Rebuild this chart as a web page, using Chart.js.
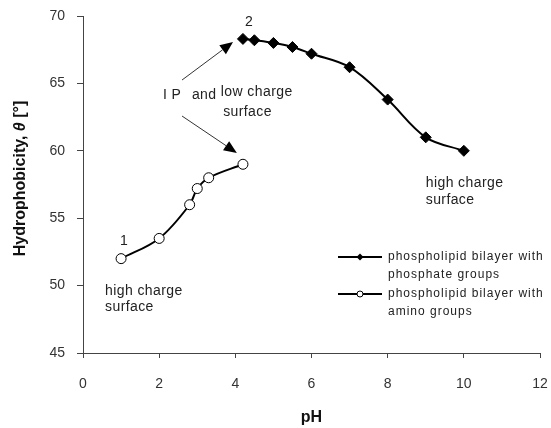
<!DOCTYPE html>
<html>
<head>
<meta charset="utf-8">
<script src="https://cdn.jsdelivr.net/npm/chart.js@4.4.0/dist/chart.umd.min.js"></script>
<style>
  html, body { margin: 0; padding: 0; background: #fff; }
</style>
</head>
<body>
<canvas id="CHART1" width="551" height="428"></canvas>
<script>
// phosphate groups (filled diamonds)
const phosphatePH = [4.2, 4.5, 5, 5.5, 6, 7, 8, 9, 10];
const phosphateTheta = [68.3, 68.2, 68.0, 67.7, 67.2, 66.2, 63.8, 61.0, 60.0];
// amino groups (open circles)
const aminoPH = [1, 2, 2.8, 3.0, 3.3, 4.2];
const aminoTheta = [52.0, 53.5, 56.0, 57.2, 58.0, 59.0];

const xTicks = [0, 2, 4, 6, 8, 10, 12];
const yTicks = [45, 50, 55, 60, 65, 70];

const legendLabels = [
  ['phospholipid bilayer with', 'phosphate groups'],
  ['phospholipid bilayer with', 'amino groups']
];

// text notes, placed in data units
const notes = [
  { x: 1.08, y: 53.3, text: '1', align: 'center', size: 14 },
  { x: 4.36, y: 69.55, text: '2', align: 'center', size: 14 },
  { x: 2.1, y: 64.1, text: 'I P', align: 'left', size: 14 },
  { x: 2.86, y: 64.1, text: 'and', align: 'left', size: 14 },
  { x: 3.62, y: 64.36, text: 'low charge', align: 'left', size: 14 },
  { x: 3.68, y: 62.9, text: 'surface', align: 'left', size: 14 },
  { x: 0.58, y: 49.6, text: 'high charge', align: 'left', size: 14 },
  { x: 0.58, y: 48.4, text: 'surface', align: 'left', size: 14 },
  { x: 9.0, y: 57.6, text: 'high charge', align: 'left', size: 14 },
  { x: 9.0, y: 56.35, text: 'surface', align: 'left', size: 14 }
];
const arrows = [
  { x1: 2.6, y1: 65.25, x2: 3.94, y2: 68.07 },
  { x1: 2.6, y1: 62.58, x2: 4.04, y2: 59.84 }
];

function toXY(xs, ys) {
  return xs.map((x, i) => ({ x: x, y: ys[i] }));
}

const FONT = '"Liberation Sans", Arial, sans-serif';

const extras = {
  id: 'extras',
  afterDraw(chart) {
    const c = chart.ctx;
    const xs = chart.scales.x, ys = chart.scales.y;
    const area = chart.chartArea;
    c.save();
    c.fillStyle = '#222';
    c.textBaseline = 'middle';
    c.letterSpacing = '0.4px';
    notes.forEach(n => {
      c.font = n.size + 'px ' + FONT;
      c.textAlign = n.align;
      c.fillText(n.text, xs.getPixelForValue(n.x), ys.getPixelForValue(n.y));
    });
    c.letterSpacing = '0px';

    // arrows
    c.strokeStyle = '#333';
    c.fillStyle = '#000';
    c.lineWidth = 1;
    arrows.forEach(a => {
      const x1 = xs.getPixelForValue(a.x1), y1 = ys.getPixelForValue(a.y1);
      const x2 = xs.getPixelForValue(a.x2), y2 = ys.getPixelForValue(a.y2);
      const ang = Math.atan2(y2 - y1, x2 - x1);
      const L = 13, W = 5.5;
      const bx = x2 - L * Math.cos(ang), by = y2 - L * Math.sin(ang);
      c.beginPath();
      c.moveTo(x1, y1);
      c.lineTo(bx, by);
      c.stroke();
      c.beginPath();
      c.moveTo(x2, y2);
      c.lineTo(bx + W * Math.sin(ang), by - W * Math.cos(ang));
      c.lineTo(bx - W * Math.sin(ang), by + W * Math.cos(ang));
      c.closePath();
      c.fill();
    });

    // legend
    const lx = area.right - 202, ly = area.bottom - 96;
    chart.data.datasets.forEach((ds, i) => {
      const y = ly + i * 37;
      c.strokeStyle = '#000';
      c.lineWidth = 2;
      c.beginPath();
      c.moveTo(lx, y);
      c.lineTo(lx + 44, y);
      c.stroke();
      c.lineWidth = 1;
      c.beginPath();
      if (i === 0) {
        c.fillStyle = '#000';
        c.moveTo(lx + 22, y - 3.5);
        c.lineTo(lx + 25.5, y);
        c.lineTo(lx + 22, y + 3.5);
        c.lineTo(lx + 18.5, y);
        c.closePath();
        c.fill();
      } else {
        c.fillStyle = '#fff';
        c.arc(lx + 22, y, 3, 0, Math.PI * 2);
        c.fill();
        c.stroke();
      }
      c.fillStyle = '#222';
      c.font = '12px ' + FONT;
      c.textAlign = 'left';
      c.letterSpacing = '1px';
      legendLabels[i].forEach((t, k) => c.fillText(t, lx + 50, y + k * 18));
      c.letterSpacing = '0px';
    });

    // y axis title with italic theta
    c.translate(21, (area.top + area.bottom) / 2 - 6);
    c.rotate(-Math.PI / 2);
    c.fillStyle = '#111';
    c.textAlign = 'left';
    const parts = [
      { t: 'Hydrophobicity, ', f: 'bold 16px ' + FONT },
      { t: 'θ', f: 'italic bold 16px ' + FONT },
      { t: ' [°]', f: 'bold 16px ' + FONT }
    ];
    let total = 0;
    parts.forEach(p => { c.font = p.f; total += c.measureText(p.t).width; });
    let px = -total / 2;
    parts.forEach(p => { c.font = p.f; c.fillText(p.t, px, 0); px += c.measureText(p.t).width; });
    c.restore();
  }
};

const ctx1 = document.getElementById('CHART1');

new Chart(ctx1, {
  type: 'scatter',
  data: {
    datasets: [{
      label: legendLabels[0].join(' '),
      data: toXY(phosphatePH, phosphateTheta),
      showLine: true,
      borderColor: '#000',
      borderWidth: 2,
      tension: 0.35,
      pointStyle: 'rectRot',
      pointRadius: 5.5,
      pointBackgroundColor: '#000',
      pointBorderColor: '#000',
      pointBorderWidth: 1
    }, {
      label: legendLabels[1].join(' '),
      data: toXY(aminoPH, aminoTheta),
      showLine: true,
      borderColor: '#000',
      borderWidth: 2,
      tension: 0.35,
      pointStyle: 'circle',
      pointRadius: 5,
      pointBackgroundColor: '#fff',
      pointBorderColor: '#000',
      pointBorderWidth: 1
    }]
  },
  options: {
    responsive: false,
    animation: false,
    devicePixelRatio: 1,
    layout: { padding: { top: 16, right: 11, left: 0, bottom: 0 } },
    plugins: {
      legend: { display: false },
      tooltip: { enabled: false }
    },
    scales: {
      x: {
        type: 'linear',
        min: 0,
        max: 12,
        afterBuildTicks: s => { s.ticks = xTicks.map(v => ({ value: v })); },
        afterFit: s => { s.height = 75; s.paddingRight = 8; s.paddingLeft = 0; },
        grid: { drawOnChartArea: false, drawTicks: true, tickLength: 5, color: '#444' },
        border: { color: '#444', width: 1 },
        ticks: { color: '#333', padding: 18, font: { size: 14, family: FONT } },
        title: {
          display: true,
          text: 'pH',
          color: '#111',
          padding: { top: 6, bottom: 1 },
          font: { size: 16, weight: 'bold', family: FONT }
        }
      },
      y: {
        type: 'linear',
        min: 45,
        max: 70,
        afterBuildTicks: s => { s.ticks = yTicks.map(v => ({ value: v })); },
        afterFit: s => { s.width = 83; s.paddingTop = 8; s.paddingBottom = 0; },
        grid: { drawOnChartArea: false, drawTicks: true, tickLength: 6, color: '#444' },
        border: { color: '#444', width: 1 },
        ticks: { color: '#333', padding: 12, font: { size: 14, family: FONT } }
      }
    }
  },
  plugins: [extras]
});
</script>
</body>
</html>
